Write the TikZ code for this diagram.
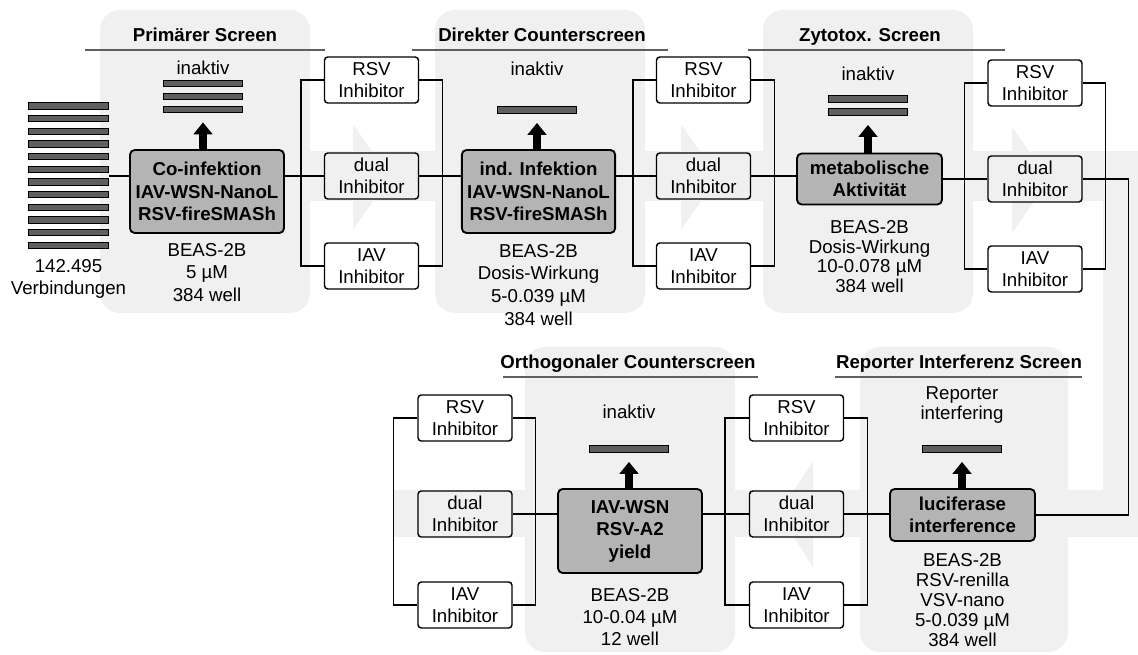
\documentclass[tikz,border=0pt]{standalone}
\usepackage{fontspec}
\setmainfont{Liberation Sans}
\usetikzlibrary{positioning,arrows.meta}

\definecolor{panelgray}{RGB}{240,240,240}
\definecolor{boxgray}{RGB}{180,180,180}
\definecolor{bargray}{RGB}{95,95,95}
\definecolor{rulegray}{RGB}{95,95,95}

\begin{document}
\begin{tikzpicture}[
x=0.75pt, y=-0.75pt,
every node/.style={font=\fontsize{14}{16.5}\selectfont, inner sep=0pt},
screen/.style={draw, line width=1.4pt, rounded corners=3.5pt, fill=boxgray, align=center, font=\fontsize{14}{16.9}\selectfont\bfseries},
inhib/.style={draw, line width=1.1pt, rounded corners=2.5pt, align=center, minimum width=70.5pt, minimum height=34.5pt},
bar/.style={draw, line width=0.8pt, fill=bargray, minimum width=59.5pt, minimum height=4.6pt},
info/.style={align=center, font=\fontsize{14}{#1}\selectfont},
info/.default=17,
title/.style={font=\fontsize{14}{16.5}\selectfont\bfseries, anchor=base},
rule/.style={rulegray, line width=1pt},
link/.style={line width=1.1pt},
up/.style={line width=6pt, -{Triangle[width=14pt,length=9pt]}, shorten >=7pt}
]
\useasboundingbox (0,0) rectangle (1138,655);

% background
\fill[panelgray] (300,151) rectangle (1138,201);
\fill[panelgray] (1103,151) rectangle (1138,537);
\fill[panelgray] (394,490) rectangle (1138,537);
\fill[panelgray] (353,124) -- (390,177) -- (353,230) -- cycle;
\fill[panelgray] (681,124) -- (718,177) -- (681,230) -- cycle;
\fill[panelgray] (1012,127) -- (1049,180) -- (1012,233) -- cycle;
\fill[panelgray] (813,461) -- (779,514) -- (813,567) -- cycle;
\fill[panelgray, rounded corners=15pt] (100,10) rectangle (310,313);
\fill[panelgray, rounded corners=15pt] (435,10) rectangle (645,313);
\fill[panelgray, rounded corners=15pt] (763,10) rectangle (973,313);
\fill[panelgray, rounded corners=15pt] (525,347) rectangle (735,652);
\fill[panelgray, rounded corners=15pt] (860,347) rectangle (1068,652);

% titles
\node[title] (t-prim) at (205,42) {Primärer Screen};
\node[title] (t-direkt) at (542,42) {Direkter Counterscreen};
\node[title] (t-zyto) at (870,42) {Zytotox. Screen};
\node[title] (t-ortho) at (628,369) {Orthogonaler Counterscreen};
\node[title] (t-reporter) at (959,369) {Reporter Interferenz Screen};
\draw[rule] (85,50) -- (325,50);
\draw[rule] (412,50) -- (668,50);
\draw[rule] (748,50) -- (1005,50);
\draw[rule] (503,377) -- (758,377);
\draw[rule] (835,377) -- (1082,377);

% compound library
\node[bar, minimum width=60.5pt] (cmp1) at (68.5,106) {};
\node[bar, minimum width=60.5pt] (cmp2) [below=4.1pt of cmp1] {};
\node[bar, minimum width=60.5pt] (cmp3) [below=4.1pt of cmp2] {};
\node[bar, minimum width=60.5pt] (cmp4) [below=4.1pt of cmp3] {};
\node[bar, minimum width=60.5pt] (cmp5) [below=4.1pt of cmp4] {};
\node[bar, minimum width=60.5pt] (cmp6) [below=4.1pt of cmp5] {};
\node[bar, minimum width=60.5pt] (cmp7) [below=4.1pt of cmp6] {};
\node[bar, minimum width=60.5pt] (cmp8) [below=4.1pt of cmp7] {};
\node[bar, minimum width=60.5pt] (cmp9) [below=4.1pt of cmp8] {};
\node[bar, minimum width=60.5pt] (cmp10) [below=4.1pt of cmp9] {};
\node[bar, minimum width=60.5pt] (cmp11) [below=4.1pt of cmp10] {};
\node[bar, minimum width=60.5pt] (cmp12) [below=4.1pt of cmp11] {};
\node[info] (cmp-info) [below=7.5pt of cmp12] {142.495\\Verbindungen};

% screens
\node[screen, minimum width=115.5pt, minimum height=62.25pt] (prim) at (207,191.5) {Co-infektion\\IAV-WSN-NanoL\\RSV-fireSMASh};
\node[screen, minimum width=115pt, minimum height=62.25pt] (direkt) at (538.5,191.5) {ind. Infektion\\IAV-WSN-NanoL\\RSV-fireSMASh};
\node[screen, minimum width=108.75pt, minimum height=38.25pt] (zyto) at (869.5,179) {metabolische\\Aktivität};
\node[screen, minimum width=108pt, minimum height=63pt] (ortho) at (630,531) {IAV-WSN\\RSV-A2\\yield};
\node[screen, minimum width=108.75pt, minimum height=39pt] (reporter) at (962.5,515) {luciferase\\interference};

\node[info] (prim-info) [below=6.75pt of prim] {BEAS-2B\\5 µM\\384 well};
\node[info] (direkt-info) [below=7.5pt of direkt] {BEAS-2B\\Dosis-Wirkung\\5-0.039 µM\\384 well};
\node[info=14.8] (zyto-info) [below=11pt of zyto] {BEAS-2B\\Dosis-Wirkung\\10-0.078 µM\\384 well};
\node[info=16.5] (ortho-info) [below=10.5pt of ortho] {BEAS-2B\\10-0.04 µM\\12 well};
\node[info=15] (reporter-info) [below=8.25pt of reporter] {BEAS-2B\\RSV-renilla\\VSV-nano\\5-0.039 µM\\384 well};

% sorted out
\node[bar] (out1a) at (203,83.5) {};
\node[bar] (out1b) [below=4.35pt of out1a] {};
\node[bar] (out1c) [below=4.35pt of out1b] {};
\node[bar] (out2) at (537,110) {};
\node[bar] (out3a) at (868,99) {};
\node[bar] (out3b) [below=4.35pt of out3a] {};
\node[bar] (out4) at (629,449) {};
\node[bar] (out5) at (962,449) {};

\node (out1-label) [above=3.75pt of out1a] {inaktiv};
\node (out2-label) [above=23pt of out2] {inaktiv};
\node (out3-label) [above=11pt of out3a] {inaktiv};
\node (out4-label) [above=20pt of out4] {inaktiv};
\node[align=center, font=\fontsize{14}{15}\selectfont] (out5-label) [above=16.5pt of out5] {Reporter\\interfering};

\draw[up] (out1c.south |- prim.north) -- (out1c.south);
\draw[up] (out2.south |- direkt.north) -- (out2.south);
\draw[up] (out3b.south |- zyto.north) -- (out3b.south);
\draw[up] (out4.south |- ortho.north) -- (out4.south);
\draw[up] (out5.south |- reporter.north) -- (out5.south);

% hits
\node[inhib] (rsv1) at (371.5,80) {RSV\\Inhibitor};
\node[inhib] (dual1) at (371.5,176) {dual\\Inhibitor};
\node[inhib] (iav1) at (371.5,266) {IAV\\Inhibitor};
\node[inhib] (rsv2) at (703.5,80) {RSV\\Inhibitor};
\node[inhib] (dual2) at (703.5,176) {dual\\Inhibitor};
\node[inhib] (iav2) at (703.5,266) {IAV\\Inhibitor};
\node[inhib] (rsv3) at (1035,83) {RSV\\Inhibitor};
\node[inhib] (dual3) at (1035,179) {dual\\Inhibitor};
\node[inhib] (iav3) at (1035,269) {IAV\\Inhibitor};
\node[inhib] (rsv4) at (465,418) {RSV\\Inhibitor};
\node[inhib] (dual4) at (465,514) {dual\\Inhibitor};
\node[inhib] (iav4) at (465,605) {IAV\\Inhibitor};
\node[inhib] (rsv5) at (796.5,418) {RSV\\Inhibitor};
\node[inhib] (dual5) at (796.5,514) {dual\\Inhibitor};
\node[inhib] (iav5) at (796.5,605) {IAV\\Inhibitor};

% connections
\draw[link] (cmp1.east |- dual1) -- (prim.west |- dual1);
\draw[link] (prim.east |- dual1) -- (dual1.west);
\draw[link] (rsv1.west) -- ++(-23,0) |- (iav1.west);
\draw[link] (rsv1.east) -- ++(23,0) |- (iav1.east);
\draw[link] (dual1.east) -- (direkt.west |- dual1);

\draw[link] (direkt.east |- dual2) -- (dual2.west);
\draw[link] (rsv2.west) -- ++(-23,0) |- (iav2.west);
\draw[link] (rsv2.east) -- ++(23,0) |- (iav2.east);
\draw[link] (dual2.east) -- (zyto.west |- dual2);

\draw[link] (zyto.east |- dual3) -- (dual3.west);
\draw[link] (rsv3.west) -- ++(-23,0) |- (iav3.west);
\draw[link] (rsv3.east) -- ++(23,0) |- (iav3.east);
\draw[link] (dual3.east) -- ++(46,0) |- (reporter.east);

\draw[link] (reporter.west |- dual5) -- (dual5.east);
\draw[link] (rsv5.west) -- ++(-24,0) |- (iav5.west);
\draw[link] (rsv5.east) -- ++(23,0) |- (iav5.east);
\draw[link] (dual5.west) -- (ortho.east |- dual5);

\draw[link] (ortho.west |- dual4) -- (dual4.east);
\draw[link] (rsv4.west) -- ++(-24,0) |- (iav4.west);
\draw[link] (rsv4.east) -- ++(23,0) |- (iav4.east);

\end{tikzpicture}
\end{document}
